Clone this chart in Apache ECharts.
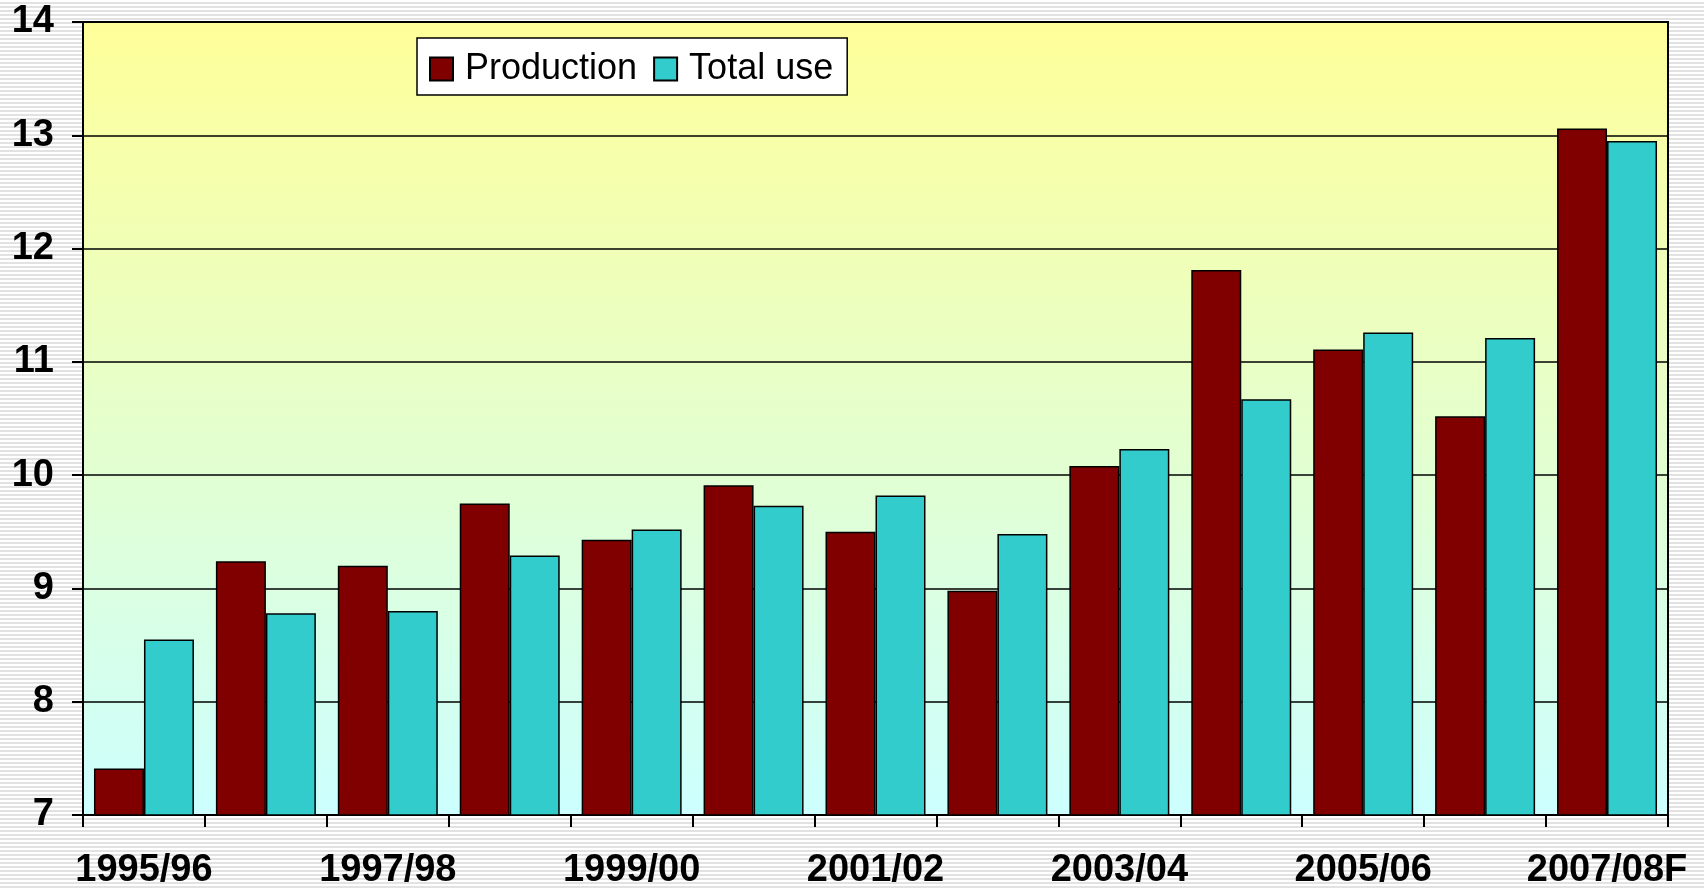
<!DOCTYPE html>
<html>
<head>
<meta charset="utf-8">
<script src="https://cdn.jsdelivr.net/npm/echarts@6/dist/echarts.min.js"></script>
<style>
  html, body {
    margin: 0;
    padding: 0;
    width: 1704px;
    height: 890px;
    overflow: hidden;
    background: repeating-linear-gradient(to bottom, #ffffff 0px, #ffffff 2px, #e2e2e2 2px, #e2e2e2 4px);
  }
  #chart {
    width: 1704px;
    height: 890px;
  }
</style>
</head>
<body>
<div id="chart"></div>
<script>
  // marketing years
  var years = ['1995/96', '1996/97', '1997/98', '1998/99', '1999/00', '2000/01', '2001/02',
    '2002/03', '2003/04', '2004/05', '2005/06', '2006/07', '2007/08F']
  // values
  var production = [7.41, 9.24, 9.20, 9.75, 9.43, 9.91, 9.50, 8.98, 10.08, 11.81, 11.11, 10.52, 13.06]
  var totalUse = [8.55, 8.78, 8.80, 9.29, 9.52, 9.73, 9.82, 9.48, 10.23, 10.67, 11.26, 11.21, 12.95]

  var chart = echarts.init(document.getElementById('chart'))
  var font = 'Arial, "Liberation Sans", sans-serif'

  chart.setOption({
    backgroundColor: 'transparent',
    animation: false,
    textStyle: { fontFamily: font },
    grid: {
      left: 83,
      right: 36,
      top: 22,
      bottom: 73,
      show: true,
      borderColor: '#000',
      borderWidth: 2,
      backgroundColor: new echarts.graphic.LinearGradient(0, 0, 0, 1, [
        { offset: 0, color: '#ffff99' },
        { offset: 1, color: '#ccffff' }
      ])
    },
    legend: {
      left: 417,
      top: 38,
      orient: 'horizontal',
      backgroundColor: '#fff',
      borderColor: '#000',
      borderWidth: 1.5,
      borderRadius: 0,
      padding: [13, 14, 8, 12],
      icon: 'rect',
      itemWidth: 23,
      itemHeight: 23,
      itemGap: 16,
      textStyle: { fontSize: 36, color: '#000', fontFamily: font, padding: [4, 0, 0, 7] },
      data: ['Production', 'Total use']
    },
    xAxis: {
      type: 'category',
      data: years,
      axisLine: { lineStyle: { color: '#000', width: 2 } },
      axisTick: { show: true, interval: 0, length: 12, lineStyle: { color: '#000', width: 2 } },
      axisLabel: {
        interval: 1,
        margin: 37,
        fontSize: 38,
        fontWeight: 'bold',
        color: '#000',
        fontFamily: font
      },
      splitLine: { show: false }
    },
    yAxis: {
      type: 'value',
      min: 7,
      max: 14,
      interval: 1,
      axisLine: { show: true, lineStyle: { color: '#000', width: 2 } },
      axisTick: { show: true, length: 11, lineStyle: { color: '#000', width: 2 } },
      axisLabel: {
        margin: 29,
        fontSize: 38,
        fontWeight: 'bold',
        color: '#000',
        fontFamily: font
      },
      splitLine: { show: true, lineStyle: { color: '#000', width: 1.5 } }
    },
    series: [
      {
        name: 'Production',
        type: 'bar',
        barGap: '0%',
        barCategoryGap: '18%',
        itemStyle: { color: '#800000', borderColor: '#000', borderWidth: 1.5 },
        data: production
      },
      {
        name: 'Total use',
        type: 'bar',
        barGap: '0%',
        barCategoryGap: '18%',
        itemStyle: { color: '#33cccc', borderColor: '#000', borderWidth: 1.5 },
        data: totalUse
      }
    ]
  })
</script>
</body>
</html>
